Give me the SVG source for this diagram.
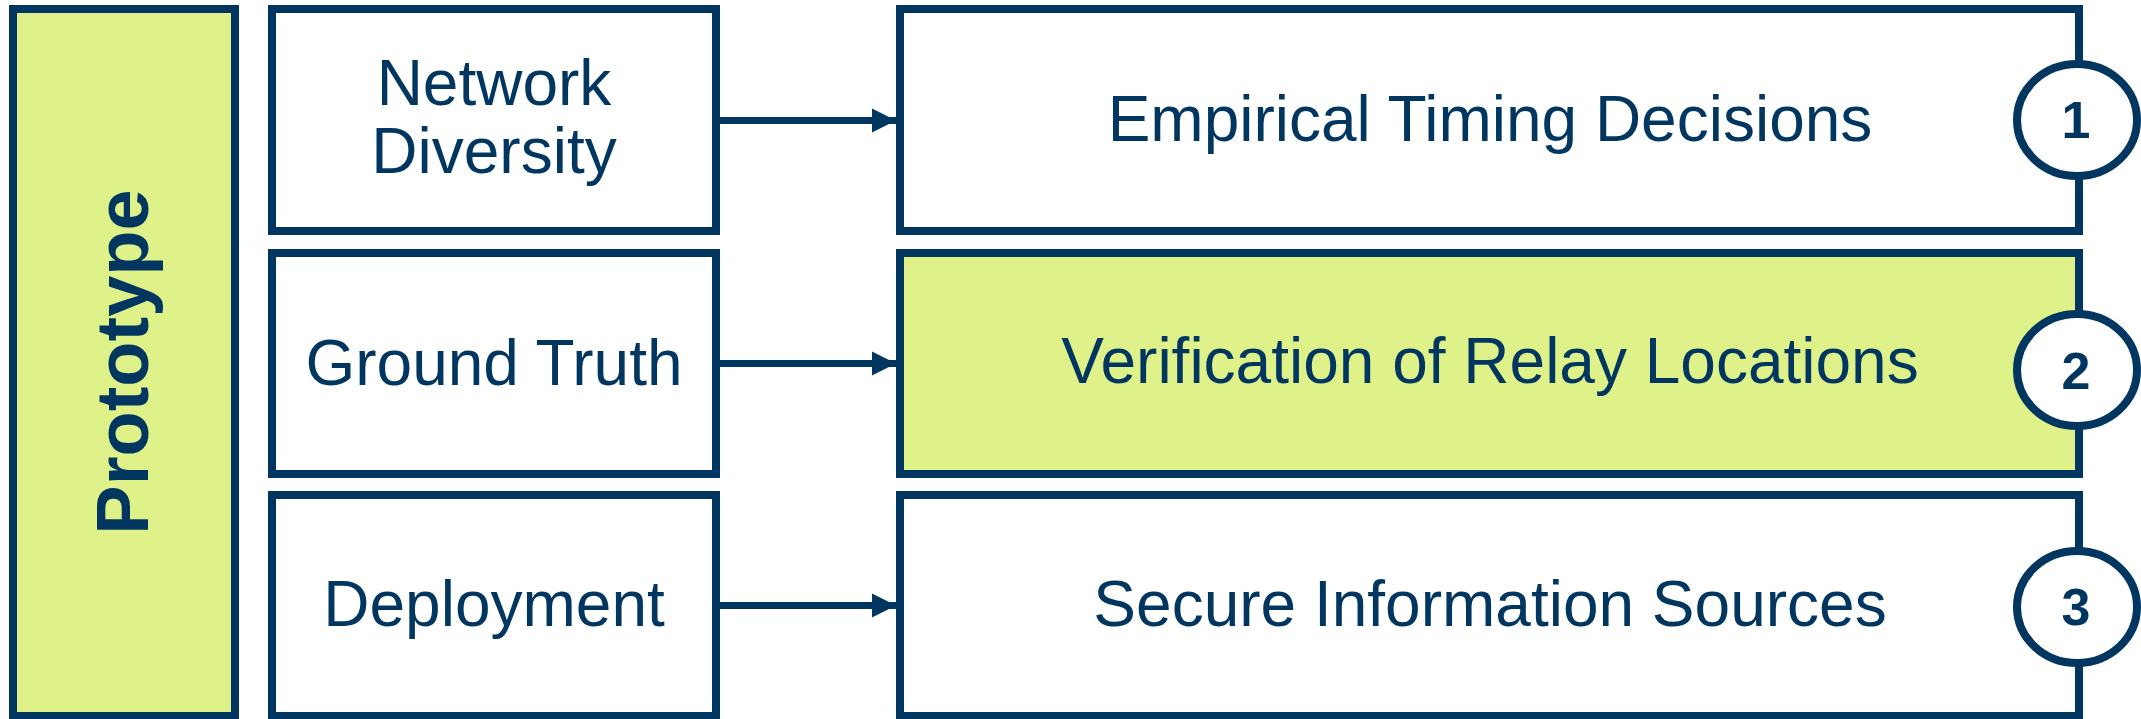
<svg xmlns="http://www.w3.org/2000/svg" width="2141" height="719" viewBox="0 0 2141 719">
<style>
.box{fill:#ffffff;stroke:#00365f;stroke-width:8}
.hl{fill:#dff28a}
.t{font-family:"Liberation Sans",Arial,sans-serif;font-size:64px;fill:#00365f;text-anchor:middle}
.num{font-family:"Liberation Sans",Arial,sans-serif;font-size:52px;font-weight:bold;fill:#00365f;text-anchor:middle}
.conn{stroke:#00365f;stroke-width:7;fill:none}
.badge{fill:#ffffff;stroke:#00365f;stroke-width:8}
</style>
<defs>
<marker id="ah" markerUnits="userSpaceOnUse" markerWidth="26" markerHeight="28" refX="24" refY="13" orient="auto">
<path d="M0,1 L24,13 L0,25 Z" fill="#00365f"/>
</marker>
</defs>
<rect width="2141" height="719" fill="#ffffff"/>
<g id="prototype">
<rect class="box hl" x="13" y="9" width="222" height="707"/>
<text transform="translate(148,362) rotate(-90)" font-family="'Liberation Sans',Arial,sans-serif" font-size="74" font-weight="bold" fill="#00365f" text-anchor="middle">Prototype</text>
</g>
<g id="network-diversity">
<rect class="box" x="272" y="9" width="444" height="222"/>
<text class="t" x="494" y="105">Network</text>
<text class="t" x="494" y="173">Diversity</text>
</g>
<g id="ground-truth">
<rect class="box" x="272" y="253" width="444" height="221"/>
<text class="t" x="494" y="385">Ground Truth</text>
</g>
<g id="deployment">
<rect class="box" x="272" y="495" width="444" height="221"/>
<text class="t" x="494" y="626">Deployment</text>
</g>
<g id="empirical-timing">
<rect class="box" x="900" y="9" width="1179" height="222"/>
<text class="t" x="1490" y="141">Empirical Timing Decisions</text>
</g>
<g id="relay-verification">
<rect class="box hl" x="900" y="253" width="1179" height="221"/>
<text class="t" x="1490" y="383">Verification of Relay Locations</text>
</g>
<g id="secure-sources">
<rect class="box" x="900" y="495" width="1179" height="221"/>
<text class="t" x="1490" y="626">Secure Information Sources</text>
</g>
<g id="badge-1">
<ellipse class="badge" cx="2077" cy="120" rx="60" ry="56"/>
<text class="num" x="2076" y="138">1</text>
</g>
<g id="badge-2">
<ellipse class="badge" cx="2077" cy="370" rx="60" ry="56"/>
<text class="num" x="2076" y="389">2</text>
</g>
<g id="badge-3">
<ellipse class="badge" cx="2077" cy="607" rx="60" ry="56"/>
<text class="num" x="2076" y="625">3</text>
</g>
<g id="connectors">
<line class="conn" x1="719" y1="120.5" x2="896" y2="120.5" marker-end="url(#ah)"/>
<line class="conn" x1="719" y1="363.5" x2="896" y2="363.5" marker-end="url(#ah)"/>
<line class="conn" x1="719" y1="605.5" x2="896" y2="605.5" marker-end="url(#ah)"/>
</g>
</svg>
